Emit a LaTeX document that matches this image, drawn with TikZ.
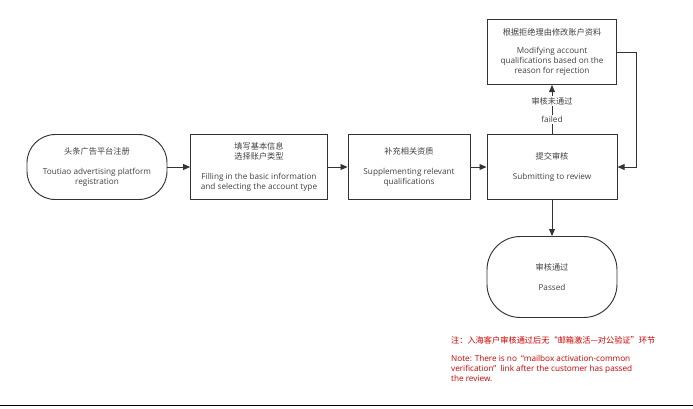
\documentclass[tikz,border=0pt]{standalone}
\usepackage{fontspec}
\setmainfont{Open Sans}
\newfontfamily\cjk{Noto Sans CJK SC}
\usetikzlibrary{arrows.meta,positioning}

\begin{document}
\begin{tikzpicture}[x=0.03cm, y=-0.03cm,
    every node/.style={font=\fontsize{7}{8.6}\selectfont, text=black!75, align=center},
    stepbox/.style={draw=black!80, thick, minimum width=4.1cm, minimum height=1.95cm, inner sep=1pt},
    endbox/.style={stepbox, rounded corners=0.85cm},
    flow/.style={draw=black!80, thick, -{Triangle[length=6pt,width=5pt]}}]
    \useasboundingbox (0,0) rectangle (693,408);
    \draw[thick] (0,405) -- (693,405);

    \node[endbox, minimum width=4.2cm] (reg) at (97,167) {{\cjk 头条广告平台注册}\\[9pt]Toutiao advertising platform\\registration};
    \node[stepbox] (info) at (259,167) {{\cjk 填写基本信息}\\{\cjk 选择账户类型}\\[9pt]Filling in the basic information\\and selecting the account type};
    \node[stepbox, minimum width=3.66cm] (qual) at (409,167) {{\cjk 补充相关资质}\\[9pt]Supplementing relevant\\qualifications};
    \node[stepbox, minimum width=3.9cm] (submit) at (552,167) {{\cjk 提交审核}\\[9pt]Submitting to review};
    \node[stepbox, minimum width=3.85cm] (modify) at (552,52) {{\cjk 根据拒绝理由修改账户资料}\\[7pt]Modifying account\\qualifications based on the\\reason for rejection};
    \node[endbox, minimum width=3.9cm, minimum height=2.43cm, rounded corners=1cm] (pass) at (552,277) {{\cjk 审核通过}\\[9pt]Passed};
    \coordinate (turn) at (636,52);

    \draw[flow] (reg) -- (info);
    \draw[flow] (info) -- (qual);
    \draw[flow] (qual) -- (submit);
    \draw[flow] (submit) -- (modify)
        node[pos=0.3, fill=white, inner sep=1pt] {failed}
        node[pos=0.67, fill=white, inner sep=1pt] {\cjk 审核未通过};
    \draw[flow] (modify.east) -- (turn) |- (submit.east);
    \draw[flow] (submit) -- (pass);

    \node[anchor=north west, text=red!80!black, align=left] (note) at (447,332) {{\cjk 注：入海客户审核通过后无“邮箱激活—对公验证”环节}\\[7pt]Note: There is no \ “mailbox activation-common\\verification” \ link after the customer has passed\\the review.};
\end{tikzpicture}
\end{document}
